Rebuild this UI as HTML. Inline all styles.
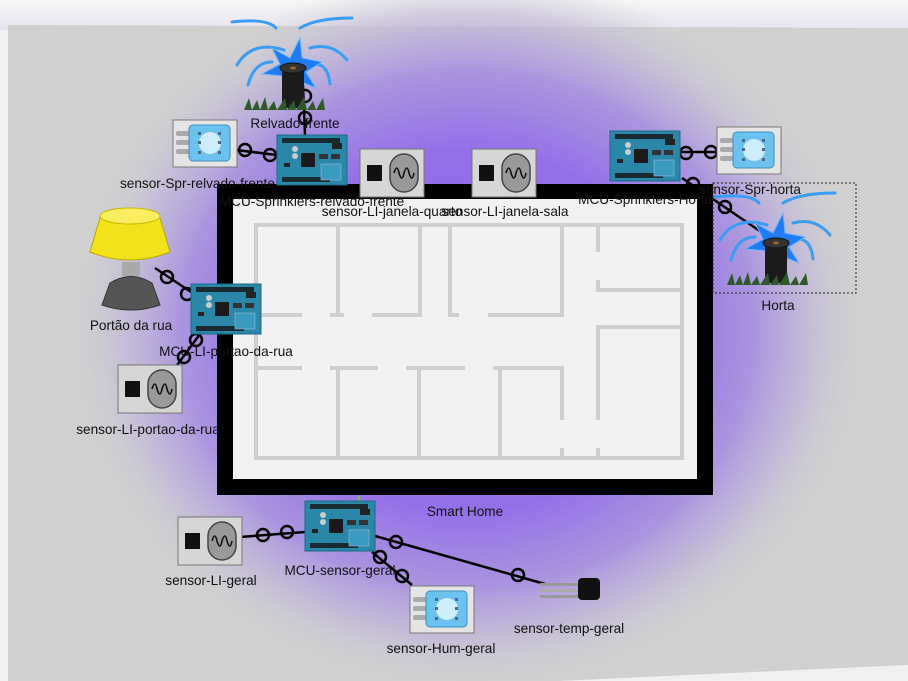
<!DOCTYPE html>
<html><head><meta charset="utf-8"><style>
html,body{margin:0;padding:0;width:908px;height:681px;overflow:hidden;background:#f0f0f0}
svg{display:block}
text{font-family:"Liberation Sans",sans-serif;font-size:13.6px;fill:#111}
</style></head><body>
<svg width="908" height="681" viewBox="0 0 908 681" xmlns="http://www.w3.org/2000/svg">
<defs>
<radialGradient id="pg" cx="468" cy="330" r="400" gradientUnits="userSpaceOnUse" gradientTransform="translate(468 330) scale(1 0.9) translate(-468 -330)">
<stop offset="0" stop-color="#8a5cf0"/>
<stop offset="0.5" stop-color="#9470e8"/>
<stop offset="0.72" stop-color="#ab95df"/>
<stop offset="0.88" stop-color="#c4bcd8" stop-opacity="0.7"/>
<stop offset="1" stop-color="#d0d0d0" stop-opacity="0"/>
</radialGradient>
<linearGradient id="top" x1="0" y1="0" x2="0" y2="1"><stop offset="0" stop-color="#f6f6f6"/><stop offset="1" stop-color="#e8e4ef"/></linearGradient>
<g id="mcu">
<rect x="0" y="0" width="70" height="50" fill="#2a87a8" stroke="#1d6a86"/>
<rect x="5" y="3" width="58" height="5" fill="#1a2a30"/>
<rect x="5" y="42" width="48" height="5" fill="#1a2a30"/>
<rect x="24" y="18" width="14" height="14" fill="#1a1a1a"/>
<rect x="42" y="19" width="9" height="5" fill="#333"/><rect x="54" y="19" width="9" height="5" fill="#333"/>
<rect x="55" y="8" width="10" height="6" fill="#222"/>
<circle cx="18" cy="14" r="3" fill="#ccc"/><circle cx="18" cy="21" r="3" fill="#ccc"/>
<rect x="44" y="29" width="20" height="16" fill="#3a9ac0" stroke="#9bd" stroke-width="0.6"/>
<rect x="7" y="28" width="6" height="4" fill="#222"/>
</g>
<g id="dht">
<rect x="0" y="0" width="64" height="47" fill="#e4e4e4" stroke="#777"/>
<rect x="3" y="11" width="14" height="5" rx="2" fill="#aaa"/><rect x="3" y="20" width="14" height="5" rx="2" fill="#aaa"/><rect x="3" y="29" width="14" height="5" rx="2" fill="#aaa"/>
<rect x="16" y="5" width="41" height="36" rx="4" fill="#6cc2ef" stroke="#3a8fc0"/>
<circle cx="37" cy="23" r="11" fill="#e8f6ff" opacity="0.8"/>
<g fill="#4a6a8a"><rect x="25" y="12" width="3" height="3"/><rect x="45" y="12" width="3" height="3"/><rect x="25" y="31" width="3" height="3"/><rect x="45" y="31" width="3" height="3"/><rect x="25" y="21" width="3" height="3"/><rect x="45" y="21" width="3" height="3"/></g>
</g>
<g id="li">
<rect x="0" y="0" width="64" height="48" fill="#d6d6d6" stroke="#777"/>
<rect x="7" y="16" width="15" height="16" fill="#111"/>
<rect x="30" y="5" width="28" height="38" rx="14" fill="#999" stroke="#444" stroke-width="1.5"/>
<path d="M34 24 q3 -10 5 0 q3 10 5 0 q3 -10 5 0 q3 10 5 0" fill="none" stroke="#111" stroke-width="1.6"/>
</g>
<g id="spr">
<g fill="none" stroke="#3a9df5" stroke-width="3" stroke-linecap="round">
<path d="M-60 -58 Q-25 -62 -16 -52"/><path d="M60 -62 Q25 -62 8 -52"/>
<path d="M-55 -15 Q-40 -40 -8 -30"/><path d="M55 -20 Q40 -38 18 -32"/>
<path d="M-44 5 Q-38 -18 -20 -18"/><path d="M38 4 Q36 -15 24 -16"/>
</g>
<polygon points="8,-42 10,-22 30,-18 14,-8 24,8 4,0 -6,14 -8,-4 -30,-6 -12,-16 -20,-32 -2,-22" fill="#1f7cf5" stroke="#6bb5ff" stroke-width="1"/>
<rect x="-10" y="-12" width="22" height="40" fill="#1b1b1b"/>
<ellipse cx="1" cy="-12" rx="13" ry="5" fill="#333" stroke="#111"/>
<ellipse cx="1" cy="-12" rx="3" ry="1.5" fill="#a06a20"/>
<path d="M-48 30 l5 -12 l3 12 l5 -10 l3 10 l5 -13 l3 13 l6 -9 l3 9 l8 -12 l2 12 l7 -10 l2 10 l8 -13 l3 13 l6 -9 l3 9 l7 -12 l2 12 z" fill="#2e5a2a"/>
</g>
</defs>

<rect x="0" y="0" width="908" height="30" fill="url(#top)"/>
<polygon points="8,25 908,28 908,665 560,681 8,681" fill="#d0d0d0"/>
<rect x="0" y="0" width="908" height="681" fill="url(#pg)"/>
<polygon points="908,665 908,681 560,681" fill="#f0f0f0"/>

<text x="148" y="434" text-anchor="middle">sensor-LI-portao-da-rua</text>

<rect x="217" y="184" width="496" height="311" fill="#000"/>
<rect x="233" y="199" width="464" height="280" fill="#f2f2f2"/>
<g fill="none" stroke="#cfcfcf" stroke-width="4">
<rect x="256" y="225" width="426" height="233"/>
<path d="M338 225V315M256 315H302M330 315H344M372 315H420V225M450 225V315H459M488 315H562V225"/>
<path d="M598 225V252M598 280V292M598 290H682M598 327H682M598 325V420M598 448V458"/>
<path d="M256 368H302M330 368H378M406 368H465M493 368H562V420M562 448V458M338 368V458M419 368V458M500 368V458"/>
</g>

<g stroke="#000" stroke-width="2.5" fill="none">
<path d="M303 85 L305 135"/><circle cx="305" cy="96" r="6"/><circle cx="305" cy="118" r="6"/>
<path d="M236 150 L277 155"/><circle cx="245" cy="150" r="6"/><circle cx="270" cy="155" r="6"/>
<path d="M680 152 L717 152"/><circle cx="686" cy="153" r="6"/><circle cx="711" cy="152" r="6"/>
<path d="M682 178 L770 238"/><circle cx="693" cy="184" r="6"/><circle cx="725" cy="207" r="6"/>
<path d="M155 268 L191 292"/><circle cx="167" cy="277" r="6"/><circle cx="187" cy="294" r="6"/>
<path d="M200 334 L175 368"/><circle cx="196" cy="340" r="6"/><circle cx="184" cy="357" r="6"/>
<path d="M240 537 L305 532"/><circle cx="263" cy="535" r="6"/><circle cx="287" cy="532" r="6"/>
<path d="M375 536 L545 584"/><circle cx="396" cy="542" r="6"/><circle cx="518" cy="575" r="6"/>
<path d="M372 552 L412 585"/><circle cx="380" cy="557" r="6"/><circle cx="402" cy="576" r="6"/>
</g>
<path d="M360 500 L358 496" stroke="#7c3" stroke-width="2"/>

<use href="#spr" transform="translate(292,80)"/>
<text x="295" y="128" text-anchor="middle">Relvado-frente</text>
<use href="#dht" x="173" y="120"/>
<use href="#mcu" x="277" y="135"/>
<text x="120" y="188">sensor-Spr-relvado-frente</text>
<text x="312" y="206" text-anchor="middle">MCU-Sprinklers-relvado-frente</text>
<use href="#li" x="360" y="149"/>
<use href="#li" x="472" y="149"/>
<text x="392" y="216" text-anchor="middle">sensor-LI-janela-quarto</text>
<text x="505" y="216" text-anchor="middle">sensor-LI-janela-sala</text>

<use href="#mcu" x="610" y="131"/>
<text x="645" y="204" text-anchor="middle">MCU-Sprinklers-Horta</text>
<use href="#dht" x="717" y="127"/>
<text x="750" y="194" text-anchor="middle">sensor-Spr-horta</text>
<rect x="713" y="183" width="143" height="110" fill="none" stroke="#222" stroke-dasharray="2,2"/>
<use href="#spr" transform="translate(775,255)"/>
<text x="778" y="310" text-anchor="middle">Horta</text>

<path d="M100 218 L90 252 Q130 268 170 252 L160 218 Z" fill="#f2e21a" stroke="#b8a800"/>
<ellipse cx="130" cy="216" rx="30" ry="8" fill="#f8ee60" stroke="#c8b800"/>
<rect x="122" y="262" width="18" height="14" fill="#aaa"/>
<path d="M110 283 Q131 270 152 283 L160 305 Q131 315 102 305 Z" fill="#555" stroke="#333"/>
<text x="131" y="330" text-anchor="middle">Portão da rua</text>
<use href="#mcu" x="191" y="284"/>
<text x="226" y="356" text-anchor="middle">MCU-LI-portao-da-rua</text>
<use href="#li" x="118" y="365"/>

<text x="465" y="516" text-anchor="middle">Smart Home</text>
<use href="#mcu" x="305" y="501"/>
<text x="340" y="575" text-anchor="middle">MCU-sensor-geral</text>
<use href="#li" x="178" y="517"/>
<text x="211" y="585" text-anchor="middle">sensor-LI-geral</text>
<use href="#dht" x="410" y="586"/>
<text x="441" y="653" text-anchor="middle">sensor-Hum-geral</text>
<rect x="540" y="583" width="40" height="3" fill="#999"/><rect x="540" y="589" width="40" height="3" fill="#aaa"/><rect x="540" y="595" width="40" height="3" fill="#999"/>
<rect x="578" y="578" width="22" height="22" rx="4" fill="#111"/>
<text x="569" y="633" text-anchor="middle">sensor-temp-geral</text>
</svg>
</body></html>
